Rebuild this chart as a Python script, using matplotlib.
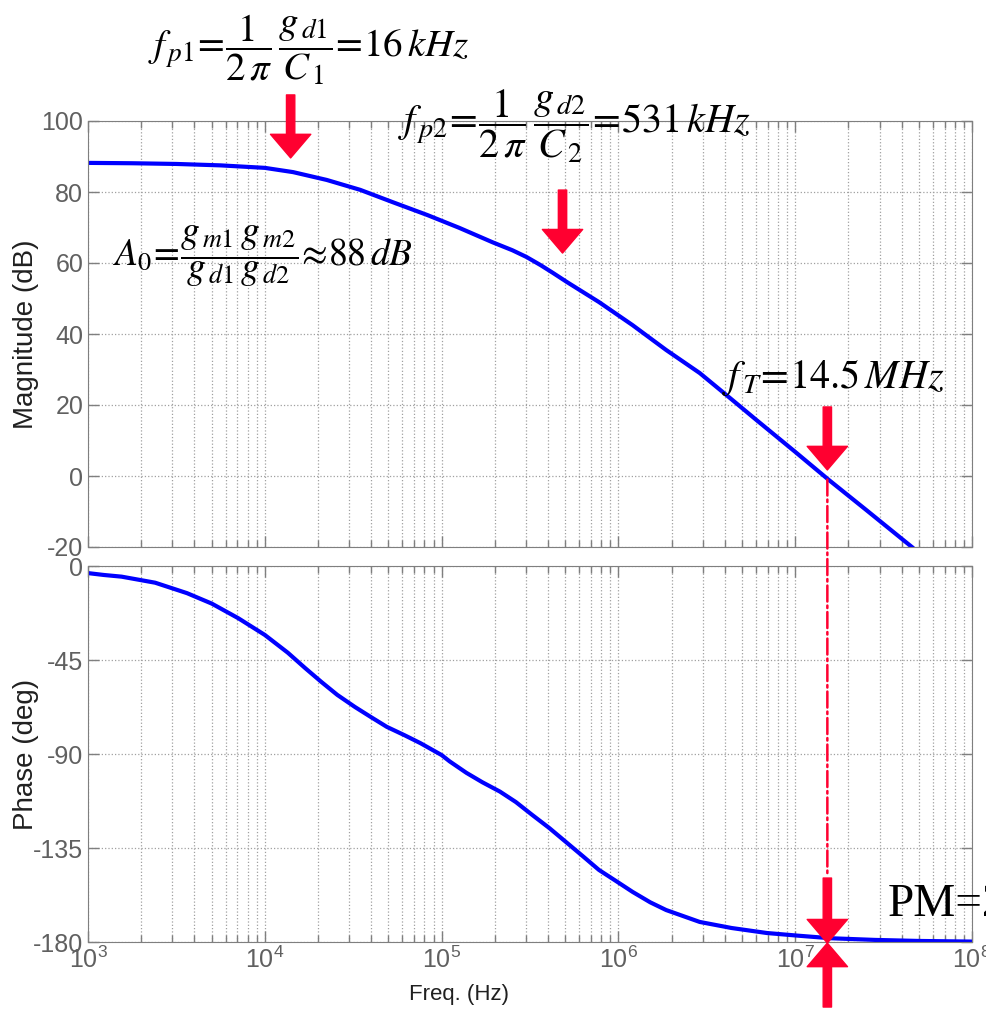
import matplotlib
matplotlib.use("Agg")
import matplotlib.pyplot as plt
import numpy as np
from matplotlib.patches import ConnectionPatch

# log10(frequency in Hz)
mag_logf = [3.0, 3.25, 3.5, 3.75, 4.0, 4.16, 4.35, 4.54, 4.72, 4.92, 5.10, 5.29,
            5.40, 5.48, 5.56, 5.63, 5.71, 5.89, 6.08, 6.27, 6.46, 6.64, 6.78, 7.0,
            7.19, 7.4, 7.66]
mag_db = [88.2, 88.1, 87.9, 87.5, 86.8, 85.6, 83.4, 80.6, 77.2, 73.5, 69.9, 65.8,
          63.6, 61.7, 59.4, 57.2, 54.6, 49.0, 42.5, 35.5, 29.0, 21.6, 15.8, 6.8,
          -1.1, -9.5, -20.0]

ph_logf = [3.0, 3.09, 3.19, 3.38, 3.47, 3.56, 3.70, 3.85, 4.0, 4.13, 4.23, 4.32,
           4.41, 4.51, 4.60, 4.69, 4.79, 4.88, 5.0, 5.045, 5.14, 5.23, 5.33, 5.42,
           5.51, 5.61, 5.71, 5.80, 5.89, 5.99, 6.08, 6.18, 6.27, 6.46, 6.64, 6.84,
           7.02, 7.2, 7.45, 7.7, 8.0]
ph_deg = [-3.4, -4.3, -5.1, -8.0, -10.5, -13.0, -18.0, -25.0, -33.0, -41.5, -49.0, -55.5,
          -61.7, -67.5, -72.3, -77.0, -81.0, -84.8, -90.5, -93.5, -99.0, -103.5, -108.0, -113.0,
          -119.0, -125.5, -132.6, -139.0, -145.5, -151.0, -156.0, -161.0, -164.7, -170.4, -173.3, -175.7,
          -177.0, -178.2, -179.0, -179.5, -179.8]

mag_ticks = [-20, 0, 20, 40, 60, 80, 100]
ph_ticks = [-180, -135, -90, -45, 0]

f_p1 = 14e3
f_p2 = 483e3
f_T = 15.2e6

mag_f = 10 ** np.array(mag_logf)
ph_f = 10 ** np.array(ph_logf)

plt.rcParams['font.family'] = ['Liberation Sans', 'DejaVu Sans']
plt.rcParams['mathtext.fontset'] = 'stix'
plt.rcParams['axes.unicode_minus'] = False

W, H = 986, 1023
fig = plt.figure(figsize=(W / 100, H / 100), dpi=100)
ax1 = fig.add_axes([88 / W, 1 - 547 / H, 884 / W, 426 / H])
ax2 = fig.add_axes([88 / W, 1 - 942 / H, 884 / W, 376 / H])

grey = '#7f7f7f'
red = '#ff0030'

for ax in (ax1, ax2):
    ax.set_xscale('log')
    ax.set_xlim(1e3, 1e8)
    ax.grid(True, which='major', axis='both', linestyle=':', color='#a0a0a0', lw=0.9)
    ax.grid(True, which='minor', axis='x', linestyle=':', color='#a0a0a0', lw=0.9)
    ax.tick_params(which='both', direction='in', top=True, right=True, colors=grey,
                   labelcolor='#606060', labelsize=18)
    ax.tick_params(which='major', length=8, width=1)
    ax.tick_params(which='minor', length=5, width=1)
    for s in ax.spines.values():
        s.set_color(grey)

ax1.plot(mag_f, mag_db, color='#0000ff', lw=3)
ax1.set_ylim(-20, 100)
ax1.set_yticks(mag_ticks)
ax1.tick_params(axis='x', which='both', labelbottom=False)
ax1.set_ylabel('Magnitude (dB)', fontsize=20, color='#202020')

ax2.plot(ph_f, ph_deg, color='#0000ff', lw=3)
ax2.set_ylim(-180, 0)
ax2.set_yticks(ph_ticks)
ax2.set_ylabel('Phase (deg)', fontsize=20, color='#202020')
ax2.set_xlabel('Freq. (Hz)', fontsize=16, color='#202020')
ax2.xaxis.set_label_coords(0.42, -0.112)

for ax in (ax1, ax2):
    ax.yaxis.set_label_coords(-0.055, 0.5)

# arrows
arr = dict(width=6, headwidth=29, headlength=17, color=red, shrink=0)
ax1.annotate('', xy=(f_p1, 89.6), xytext=(0, 63), textcoords='offset pixels',
             arrowprops=arr, annotation_clip=False)
ax1.annotate('', xy=(f_p2, 62.8), xytext=(0, 63), textcoords='offset pixels',
             arrowprops=arr, annotation_clip=False)
ax1.annotate('', xy=(f_T, 1.7), xytext=(0, 63), textcoords='offset pixels',
             arrowprops=arr, annotation_clip=False)
ax2.annotate('', xy=(f_T, -180.5), xytext=(0, 65), textcoords='offset pixels',
             arrowprops=arr, annotation_clip=False)
ax2.annotate('', xy=(f_T, -180.5), xytext=(0, -64), textcoords='offset pixels',
             arrowprops=arr, annotation_clip=False)

con = ConnectionPatch(xyA=(f_T, -1.0), coordsA=ax1.transData,
                      xyB=(f_T, -147), coordsB=ax2.transData,
                      color=red, linestyle='-.', lw=1.8)
fig.add_artist(con)

# equations
def ftext(x, y, s, size=28):
    fig.text(x / W, 1 - y / H, s, fontsize=size, va='center', ha='left', color='black')

ftext(148, 50, r'$f_{\,p1}\!=\!\dfrac{1}{2\,\pi}\,\dfrac{g_{\,d1}}{C_{\,1}}\!=\!16\,kHz$')
ftext(398, 126, r'$f_{\,p2}\!=\!\dfrac{1}{2\,\pi}\,\dfrac{g_{\,d2}}{C_{\,2}}\!=\!531\,kHz$', size=29)
ftext(113, 256, r'$A_0\!=\!\dfrac{g_{\,m1}\,g_{\,m2}}{g_{\,d1}\,g_{\,d2}}\!\approx\!88\,dB$', size=27)
ftext(722, 378, r'$f_{\,T}\!=\!14.5\,MHz$', size=29)
fig.text(888 / W, 1 - 905 / H, 'PM=2', fontsize=34, va='center', ha='left',
         family='Liberation Serif')

fig.savefig('out.png', dpi=100)
